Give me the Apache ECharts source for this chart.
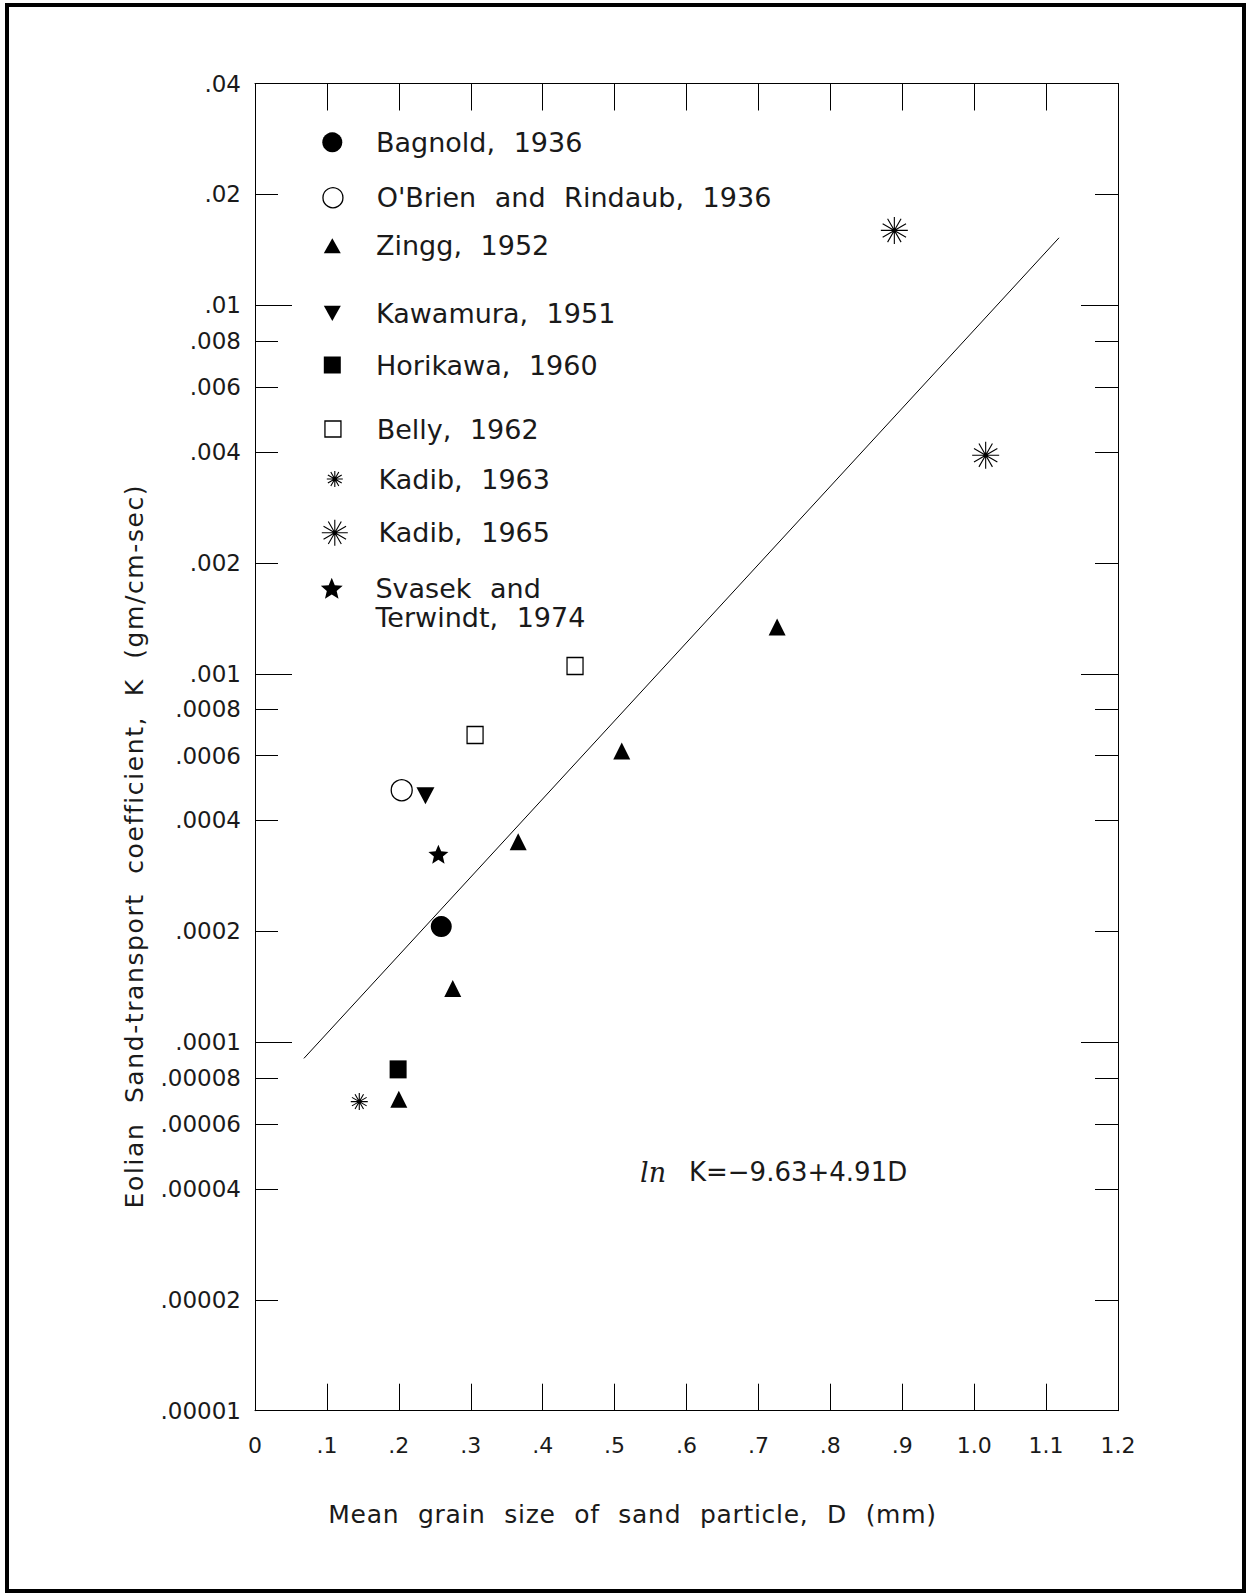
<!DOCTYPE html>
<html>
<head>
<meta charset="utf-8">
<script src="https://cdn.jsdelivr.net/npm/echarts@6/dist/echarts.min.js"></script>
<style>
html, body { margin: 0; padding: 0; background: #fff; }
#main { width: 1251px; height: 1594px; }
#main svg text { word-spacing: 10px; }
</style>
</head>
<body>
<div id="main"></div>
<script>
// ---------------- data ----------------
const xTickLabels = ['0', '.1', '.2', '.3', '.4', '.5', '.6', '.7', '.8', '.9', '1.0', '1.1', '1.2'];
const yTickValues = [0.00001, 0.00002, 0.00004, 0.00006, 0.00008, 0.0001, 0.0002, 0.0004, 0.0006, 0.0008,
                     0.001, 0.002, 0.004, 0.006, 0.008, 0.01, 0.02, 0.04];
const yTickLabels = ['.00001', '.00002', '.00004', '.00006', '.00008', '.0001', '.0002', '.0004', '.0006', '.0008',
                     '.001', '.002', '.004', '.006', '.008', '.01', '.02', '.04'];
const yMajorTicks = [0.0001, 0.001, 0.01];
const yMinorTicks = [0.00002, 0.00004, 0.00006, 0.00008, 0.0002, 0.0004, 0.0006, 0.0008,
                     0.002, 0.004, 0.006, 0.008, 0.02];

const bagnoldD = [0.259];            const bagnoldK = [0.000206];
const obrienD = [0.204];             const obrienK = [0.000483];
const zinggD = [0.200, 0.275, 0.366, 0.510, 0.726];
const zinggK = [0.000070, 0.000140, 0.000350, 0.000617, 0.00134];
const kawamuraD = [0.237];           const kawamuraK = [0.000467];
const horikawaD = [0.199];           const horikawaK = [0.0000844];
const bellyD = [0.306, 0.445];       const bellyK = [0.000682, 0.00105];
const kadib63D = [0.145];            const kadib63K = [0.000069];
const kadib65D = [0.889, 1.016];     const kadib65K = [0.01597, 0.00392];
const svasekD = [0.255];             const svasekK = [0.000324];
const fitD = [0.068, 1.118];         const fitK = [0.0000904, 0.01525];

const xTitle = 'Mean grain size of sand particle, D (mm)';
const yTitle = 'Eolian Sand-transport coefficient, K (gm/cm-sec)';
const eqPrefix = 'ln';
const eqText = 'K=\u22129.63+4.91D';

// ---------------- helpers ----------------
const L10 = Math.log10;
const pts = (D, K) => D.map((d, i) => [d, L10(K[i])]);
const yMin = L10(yTickValues[0]);
const yMax = L10(yTickValues[yTickValues.length - 1]);
const yLabelFor = v => {
  let best = 0, bd = Infinity;
  yTickValues.forEach((t, i) => { const d = Math.abs(L10(t) - v); if (d < bd) { bd = d; best = i; } });
  return yTickLabels[best];
};

const FONT = 'DejaVu Sans';
const TXT = '#1a1a1a';
const ASTER = 'path://M0,10L20,10M1.34,15L18.66,5M5,18.66L15,1.34M10,0L10,20M5,1.34L15,18.66M1.34,5L18.66,15';
const STAR_D = 'M10,0L12.645,6.359L19.511,6.91L14.28,11.39L15.878,18.09L10,14.5L4.122,18.09L5.72,11.39L0.489,6.91L7.355,6.359Z';
const STAR = 'path://' + STAR_D;
// legend icon: same star, with an invisible point below so the star sits at the first text line
const STAR_ICON = 'path://' + STAR_D + 'M10,43.8L10.01,43.8';
const DOWN = 'path://M0,0L20,0L10,18Z';

const filled = { color: '#000', borderWidth: 0, opacity: 1 };
const hollow = { color: '#fff', borderColor: '#000', borderWidth: 1.3, opacity: 1 };
const stroked = { color: 'none', borderColor: '#000', borderWidth: 1.1, opacity: 1 };

const seriesDefs = [
  { name: 'Bagnold, 1936', D: bagnoldD, K: bagnoldK, symbol: 'circle', size: 21, style: filled, lw: 20, lh: 20, cy: 142.3 },
  { name: "O'Brien and Rindaub, 1936", D: obrienD, K: obrienK, symbol: 'circle', size: 21, style: hollow, lw: 20, lh: 20, cy: 197.7 },
  { name: 'Zingg, 1952', D: zinggD, K: zinggK, symbol: 'triangle', size: [17, 17], style: filled, lw: 17, lh: 15, cy: 245.7 },
  { name: 'Kawamura, 1951', D: kawamuraD, K: kawamuraK, symbol: DOWN, size: [18, 17], style: filled, lw: 17, lh: 16, cy: 313.3 },
  { name: 'Horikawa, 1960', D: horikawaD, K: horikawaK, symbol: 'rect', size: [17, 18], style: filled, lw: 17, lh: 17, cy: 365 },
  { name: 'Belly, 1962', D: bellyD, K: bellyK, symbol: 'rect', size: [16, 17], style: hollow, lw: 16, lh: 16, cy: 429 },
  { name: 'Kadib, 1963', D: kadib63D, K: kadib63K, symbol: ASTER, size: 17, style: stroked, lw: 16, lh: 16, cy: 479 },
  { name: 'Kadib, 1965', D: kadib65D, K: kadib65K, symbol: ASTER, size: 27, style: stroked, lw: 26, lh: 26, cy: 530.7 },
  { name: 'Svasek and\nTerwindt, 1974', D: svasekD, K: svasekK, symbol: STAR, size: [20, 19], style: filled,
    lw: 23, lh: 50.4, cy: 588.3, twoLine: true, icon: STAR_ICON }
];

const iconCX = 332.3, textX = 376;

const legends = seriesDefs.map(s => {
  const pl = textX - (iconCX + s.lw / 2 + 5);
  const lineH = s.twoLine ? 29.5 : 27;
  const top = s.twoLine ? (s.cy + lineH / 2) - lineH : s.cy - lineH / 2;
  return {
    data: [s.icon ? { name: s.name, icon: s.icon } : s.name],
    orient: 'vertical',
    left: iconCX - s.lw / 2,
    top: top,
    itemWidth: s.lw,
    itemHeight: s.lh,
    padding: 0,
    selectedMode: false,
    itemStyle: { borderWidth: s.style.borderWidth, opacity: 1 },
    textStyle: { fontFamily: FONT, fontSize: 27, lineHeight: lineH, color: TXT, padding: [0, 0, 0, pl] }
  };
});

const axisLineStyle = { color: '#000', width: 1 };

const option = {
  animation: false,
  backgroundColor: '#fff',
  grid: { left: 255, right: 133, top: 83.5, bottom: 183.3, outerBoundsMode: 'none' },
  legend: legends,
  xAxis: [
    {
      type: 'value', min: 0, max: 1.2, interval: 0.1, position: 'bottom',
      axisLine: { show: true, onZero: false, lineStyle: axisLineStyle },
      axisTick: { show: true, inside: true, length: 27, lineStyle: axisLineStyle },
      axisLabel: { margin: 24, fontSize: 22, fontFamily: FONT, color: TXT,
                   formatter: v => xTickLabels[Math.round(v * 10)] },
      splitLine: { show: false },
      name: xTitle, nameLocation: 'middle', nameGap: 91,
      nameTextStyle: { fontFamily: FONT, fontSize: 25, color: TXT, padding: [0, 108, 0, 0] }
    },
    {
      type: 'value', min: 0, max: 1.2, interval: 0.1, position: 'top',
      axisLine: { show: true, onZero: false, lineStyle: axisLineStyle },
      axisTick: { show: true, inside: true, length: 27, lineStyle: axisLineStyle },
      axisLabel: { show: false }, splitLine: { show: false }
    }
  ],
  yAxis: [
    {
      type: 'value', min: yMin, max: yMax, position: 'left',
      axisLine: { show: true, onZero: false, lineStyle: axisLineStyle },
      axisTick: { show: true, inside: true, length: 37, lineStyle: axisLineStyle, customValues: yMajorTicks.map(L10) },
      axisLabel: { margin: 14, fontSize: 23, fontFamily: FONT, color: TXT,
                   customValues: yTickValues.map(L10), formatter: yLabelFor },
      splitLine: { show: false },
      name: yTitle, nameLocation: 'middle', nameGap: 108,
      nameTextStyle: { fontFamily: FONT, fontSize: 25, color: TXT, padding: [0, 198, 0, 0] }
    },
    {
      type: 'value', min: yMin, max: yMax, position: 'left',
      axisLine: { show: false, onZero: false },
      axisTick: { show: true, inside: true, length: 23, lineStyle: axisLineStyle, customValues: yMinorTicks.map(L10) },
      axisLabel: { show: false }, splitLine: { show: false }
    },
    {
      type: 'value', min: yMin, max: yMax, position: 'right',
      axisLine: { show: true, onZero: false, lineStyle: axisLineStyle },
      axisTick: { show: true, inside: true, length: 37, lineStyle: axisLineStyle, customValues: yMajorTicks.map(L10) },
      axisLabel: { show: false }, splitLine: { show: false }
    },
    {
      type: 'value', min: yMin, max: yMax, position: 'right',
      axisLine: { show: false, onZero: false },
      axisTick: { show: true, inside: true, length: 23, lineStyle: axisLineStyle, customValues: yMinorTicks.map(L10) },
      axisLabel: { show: false }, splitLine: { show: false }
    }
  ],
  series: [
    {
      name: 'fit', type: 'line', xAxisIndex: 0, yAxisIndex: 0,
      data: pts(fitD, fitK), symbol: 'none', silent: true,
      lineStyle: { color: '#000', width: 1 }, z: 1
    }
  ].concat(seriesDefs.map(s => ({
    name: s.name, type: 'scatter', xAxisIndex: 0, yAxisIndex: 0,
    data: pts(s.D, s.K), symbol: s.symbol, symbolSize: s.size,
    itemStyle: s.style, z: 3
  }))),
  graphic: [
    { type: 'rect', silent: true, z: 100,
      shape: { x: 7, y: 5, width: 1237, height: 1586 },
      style: { fill: 'none', stroke: '#000', lineWidth: 4 } },
    { type: 'text', silent: true, z: 100,
      style: { text: eqPrefix, x: 640, y: 1172, font: 'italic 27px "DejaVu Serif"', fill: TXT, verticalAlign: 'middle' } },
    { type: 'text', silent: true, z: 100,
      style: { text: eqText, x: 689, y: 1172, font: '26px "DejaVu Sans"', fill: TXT, verticalAlign: 'middle' } }
  ]
};

const chart = echarts.init(document.getElementById('main'), null, { renderer: 'svg', width: 1251, height: 1594 });
chart.setOption(option);

// wider letter pitch for the two axis titles (the original uses a wide plotter font)
document.querySelectorAll('#main svg text').forEach(t => {
  const s = t.textContent;
  if (s === yTitle) t.style.letterSpacing = '1.6px';
  else if (s === xTitle) t.style.letterSpacing = '0.7px';
});
</script>
</body>
</html>
